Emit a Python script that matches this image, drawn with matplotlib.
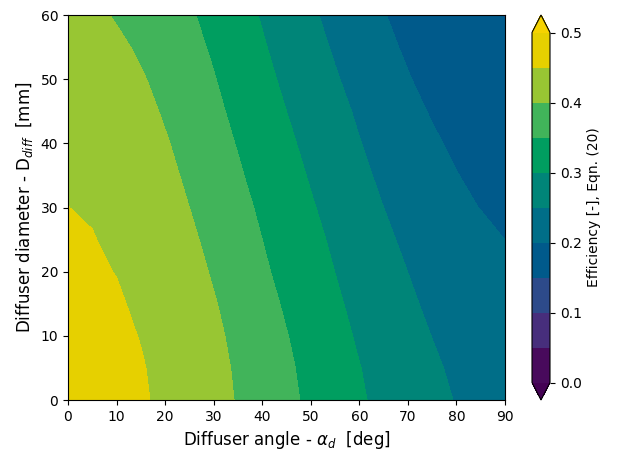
import numpy as np
import matplotlib
matplotlib.use("Agg")
import matplotlib.pyplot as plt
from matplotlib.colors import ListedColormap

# Efficiency grid (rows: diameter, columns: angle)
angles = [0, 5, 10, 15, 20, 25, 30, 35, 40, 45, 50, 55, 60, 65, 70, 75, 80, 85, 90]
diameters = [0, 5, 10, 15, 20, 25, 30, 35, 40, 45, 50, 55, 60]

eff_D0 = [0.4749, 0.4728, 0.4663, 0.4556, 0.4408, 0.4267, 0.4139, 0.3974, 0.3785, 0.3600, 0.3417, 0.3237, 0.3051, 0.2891, 0.2763, 0.2621, 0.2480, 0.2340, 0.220]
eff_D5 = [0.4723, 0.4702, 0.4637, 0.4530, 0.4388, 0.4244, 0.4116, 0.3950, 0.3756, 0.3568, 0.3381, 0.3196, 0.3011, 0.2861, 0.2713, 0.2565, 0.2426, 0.2293, 0.216]
eff_D10 = [0.4678, 0.4657, 0.4592, 0.4485, 0.4344, 0.4204, 0.4076, 0.3911, 0.3706, 0.3515, 0.3326, 0.3124, 0.2952, 0.2800, 0.2646, 0.2493, 0.2368, 0.2244, 0.212]
eff_D15 = [0.4624, 0.4603, 0.4547, 0.4429, 0.4287, 0.4154, 0.4026, 0.3862, 0.3641, 0.3447, 0.3258, 0.3063, 0.2888, 0.2735, 0.2564, 0.2425, 0.2319, 0.2202, 0.2085]
eff_D20 = [0.4574, 0.4553, 0.4490, 0.4355, 0.4227, 0.4126, 0.3964, 0.3762, 0.3566, 0.3375, 0.3186, 0.2997, 0.2830, 0.2663, 0.2498, 0.2386, 0.2274, 0.2162, 0.205]
eff_D25 = [0.4531, 0.4522, 0.4405, 0.4286, 0.4167, 0.4063, 0.3906, 0.3688, 0.3500, 0.3303, 0.3114, 0.2931, 0.2759, 0.2571, 0.2429, 0.2332, 0.2220, 0.2108, 0.1998]
eff_D30 = [0.4503, 0.4455, 0.4316, 0.4211, 0.4105, 0.4000, 0.3812, 0.3624, 0.3433, 0.3236, 0.3039, 0.2857, 0.2679, 0.2500, 0.2372, 0.2244, 0.2086, 0.1990, 0.193]
eff_D35 = [0.445, 0.4352, 0.4254, 0.4157, 0.4099, 0.3934, 0.3737, 0.3549, 0.3354, 0.3157, 0.2964, 0.2781, 0.2587, 0.2426, 0.2296, 0.2156, 0.2013, 0.1905, 0.1855]
eff_D40 = [0.440, 0.4305, 0.4210, 0.4114, 0.4033, 0.3868, 0.3664, 0.3476, 0.3278, 0.3079, 0.2888, 0.2701, 0.2515, 0.2363, 0.2214, 0.2052, 0.1934, 0.1866, 0.178]
eff_D45 = [0.434, 0.4249, 0.4158, 0.4118, 0.3958, 0.3774, 0.3591, 0.3400, 0.3200, 0.3000, 0.2811, 0.2621, 0.2443, 0.2283, 0.2098, 0.1972, 0.1888, 0.1797, 0.1705]
eff_D50 = [0.428, 0.4194, 0.4107, 0.4037, 0.3882, 0.3694, 0.3521, 0.3321, 0.3118, 0.2919, 0.2727, 0.2535, 0.2362, 0.2195, 0.2021, 0.1889, 0.1823, 0.1726, 0.163]
eff_D55 = [0.4215, 0.4132, 0.4087, 0.3937, 0.3772, 0.3626, 0.3446, 0.3240, 0.3040, 0.2843, 0.2646, 0.2455, 0.2281, 0.2085, 0.1948, 0.1861, 0.1761, 0.1660, 0.156]
eff_D60 = [0.415, 0.4097, 0.3962, 0.3819, 0.3678, 0.3544, 0.3376, 0.3163, 0.2967, 0.2764, 0.2561, 0.2376, 0.2199, 0.2017, 0.1876, 0.1804, 0.1699, 0.1595, 0.149]

levels = [0.0, 0.05, 0.10, 0.15, 0.20, 0.25, 0.30, 0.35, 0.40, 0.45, 0.50]
cbar_ticks = [0.0, 0.1, 0.2, 0.3, 0.4, 0.5]

band_colors = ['#480a5c', '#472e7c', '#2d4a8a', '#005a8b', '#006e88',
               '#008578', '#009e60', '#41b45a', '#98c633', '#e6d000']
under_color = '#440154'
over_color = '#f5d300'

cmap = ListedColormap(band_colors)
cmap.set_under(under_color)
cmap.set_over(over_color)

Z = np.array([eff_D0, eff_D5, eff_D10, eff_D15, eff_D20, eff_D25, eff_D30,
              eff_D35, eff_D40, eff_D45, eff_D50, eff_D55, eff_D60])
A, D = np.meshgrid(angles, diameters)

fig = plt.figure(figsize=(6.17, 4.5), dpi=100)
ax = fig.add_axes([68/617, 50/450, 437/617, 385/450])
cs = ax.contourf(A, D, Z, levels=levels, cmap=cmap, extend='both')
ax.set_xlim(0, 90)
ax.set_ylim(0, 60)
ax.set_xlabel(r'Diffuser angle - $\alpha_d$  [deg]', fontsize=12)
ax.set_ylabel(r'Diffuser diameter - D$_{diff}$  [mm]', fontsize=12)

cax = fig.add_axes([532/617, 50/450, 18/617, 385/450])
cb = fig.colorbar(cs, cax=cax, ticks=cbar_ticks)
cb.set_label('Efficiency [-], Eqn. (20)')

fig.savefig('out.png', dpi=100)
